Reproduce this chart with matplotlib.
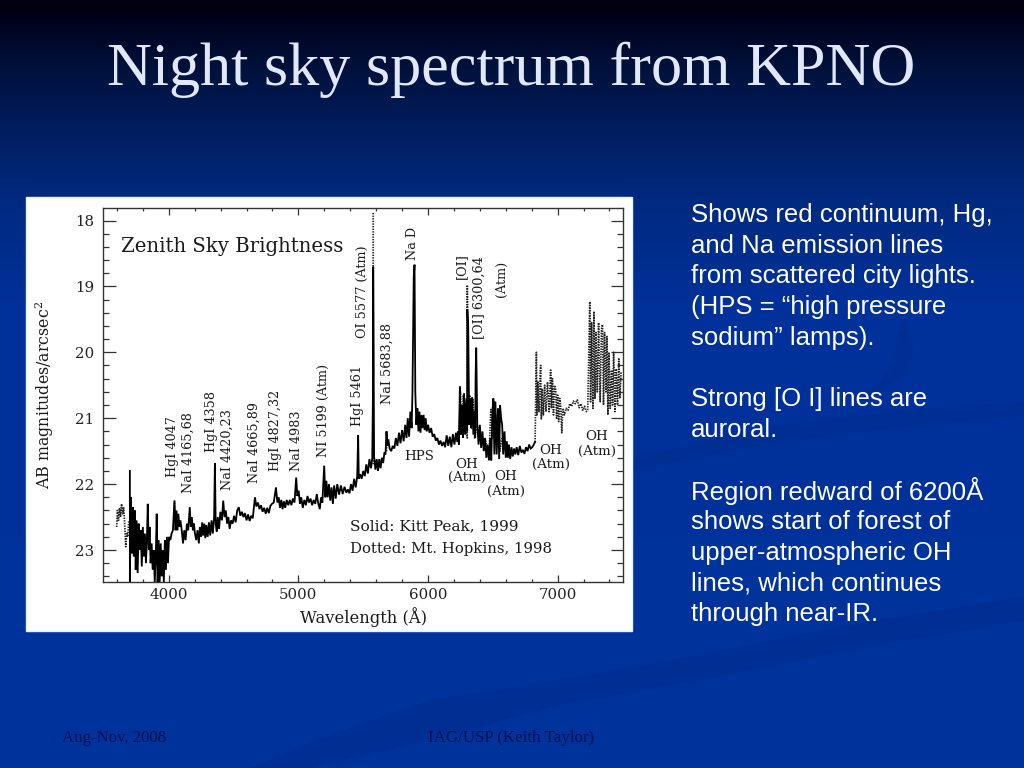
import numpy as np
import matplotlib
matplotlib.use("Agg")
import matplotlib.pyplot as plt
from matplotlib.patches import Rectangle, Polygon
from matplotlib.ticker import MultipleLocator
from matplotlib.colors import LinearSegmentedColormap

# ---------- data ----------
solid_wave = [3700,3700,3708,3716,3722,3730,3738,3745,3752,3760,3768,3776,3784,3792,3800,3808,3816,3824,3832,3838,3846,3852,3860,3868,3876,3884,3892,3900,3907,3914,3922,3930,3938,3946,3954,3962,3970,3978,3986,3994,4002,4012,4022,4032,4044,4052,4060,4066,4074,4082,4090,4100,4110,4120,4130,4140,4150,4162,4170,4178,4186,4194,4202,4212,4222,4232,4240,4250,4258,4266,4274,4282,4290,4300,4310,4320,4330,4340,4350,4356,4362,4370,4378,4388,4398,4410,4420,4430,4440,4450,4460,4470,4480,4492,4504,4516,4528,4540,4552,4564,4576,4588,4600,4612,4624,4636,4648,4665,4676,4688,4700,4712,4724,4736,4748,4760,4772,4784,4796,4810,4827,4838,4848,4858,4868,4878,4888,4898,4910,4922,4934,4946,4958,4970,4983,4992,5002,5012,5022,5034,5046,5058,5070,5082,5094,5106,5118,5130,5142,5152,5165,5175,5185,5199,5208,5216,5226,5236,5246,5256,5266,5276,5288,5300,5314,5328,5342,5356,5370,5382,5394,5406,5418,5430,5442,5454,5461,5466,5476,5488,5500,5512,5524,5536,5548,5560,5570,5577,5577,5584,5594,5604,5614,5624,5634,5644,5654,5664,5672,5680,5686,5694,5704,5716,5728,5740,5752,5764,5776,5788,5800,5812,5824,5834,5844,5854,5864,5874,5880,5888,5890,5896,5902,5910,5918,5926,5934,5942,5950,5958,5966,5974,5982,5990,6000,6012,6024,6036,6048,6060,6072,6084,6096,6108,6120,6132,6144,6156,6168,6180,6192,6204,6216,6226,6233,6238,6246,6252,6262,6270,6278,6286,6296,6302,6303,6310,6318,6326,6332,6340,6350,6358,6364,6367,6372,6380,6390,6400,6410,6420,6430,6440,6450,6460,6470,6480,6488,6497,6504,6512,6520,6530,6540,6549,6556,6564,6572,6580,6590,6600,6608,6616,6624,6634,6644,6654,6664,6674,6684,6696,6708,6720,6732,6744,6756,6768,6780,6792,6804,6816,6826]
solid_mag = [21.80,23.49,22.20,23.05,22.35,23.10,22.40,23.30,22.55,23.35,22.60,23.00,22.70,23.25,22.65,23.10,22.75,23.20,22.80,22.30,23.00,22.65,23.20,22.90,23.30,23.00,23.49,23.10,22.45,23.49,22.85,23.49,22.90,23.40,23.00,23.49,22.85,23.30,22.80,23.20,22.80,22.85,22.75,22.70,22.25,22.70,22.40,22.70,22.45,22.65,22.55,22.70,22.90,22.70,22.85,22.60,22.70,22.35,22.65,22.50,22.70,22.60,22.75,22.85,22.70,22.90,22.65,22.80,22.58,22.78,22.60,22.82,22.62,22.80,22.58,22.78,22.55,22.75,22.50,21.68,22.60,22.72,22.50,22.68,22.42,22.55,22.25,22.50,22.40,22.60,22.50,22.68,22.55,22.60,22.48,22.58,22.40,22.35,22.48,22.42,22.50,22.44,22.55,22.46,22.56,22.48,22.52,22.20,22.34,22.28,22.38,22.32,22.42,22.36,22.45,22.36,22.44,22.33,22.30,22.28,22.05,22.28,22.20,22.36,22.24,22.38,22.26,22.36,22.24,22.32,22.24,22.32,22.22,22.28,21.90,22.18,22.10,22.30,22.20,22.36,22.24,22.32,22.18,22.28,22.22,22.32,22.24,22.30,22.15,22.28,22.38,22.20,22.28,21.72,22.20,21.95,22.20,22.00,22.25,22.05,22.30,22.02,22.22,22.00,22.16,22.02,22.15,22.04,22.13,22.08,22.14,22.00,22.10,21.92,22.05,21.88,21.26,21.92,21.85,21.92,21.80,21.88,21.70,21.84,21.62,21.76,21.60,20.30,18.70,21.58,21.78,21.62,21.80,21.62,21.76,21.60,21.68,21.52,21.55,21.20,21.42,21.32,21.46,21.50,21.42,21.46,21.30,21.42,21.22,21.38,21.18,21.35,21.10,21.30,21.00,21.28,20.90,21.15,20.60,19.10,18.85,18.67,20.60,21.10,20.85,21.20,20.90,21.22,20.95,21.15,20.95,21.18,21.00,21.20,21.10,21.22,21.15,21.28,21.24,21.34,21.30,21.40,21.34,21.42,21.36,21.44,21.26,21.42,21.28,21.44,21.24,21.40,21.22,21.36,21.20,21.40,20.52,21.25,20.80,21.30,20.62,21.25,20.70,21.20,19.35,19.60,21.10,20.70,21.15,20.68,21.25,20.90,21.30,20.40,19.93,21.10,21.40,21.10,21.45,21.20,21.50,21.30,21.60,21.40,21.64,21.30,21.64,20.90,20.70,21.55,20.75,21.55,20.85,21.62,20.80,21.00,21.10,21.55,21.20,21.60,21.35,21.60,21.40,21.62,21.44,21.58,21.46,21.55,21.44,21.56,21.42,21.52,21.48,21.54,21.44,21.50,21.40,21.46,21.44,21.40,21.36]

# NaN marks a break between separate dotted stretches
nan = float('nan')
dotted_wave = [3598,3604,3612,3620,3628,3636,3644,3652,3660,3668,3676,3684,3692,nan,4044,4044,nan,4356,4356,nan,5577,5577,nan,5680,5680,nan,
               6240,6250,6262,6272,6290,6303,6303,6312,6324,6336,6348,6360,6380,6400,6440,6470,6485,6500,6512,6525,6540,6555,6570,nan,
               6826,6836,6840,6848,6856,6862,6869,6874,6882,6890,6900,6910,6922,6934,6946,6952,6960,6968,6976,6985,6992,7000,7008,7016,7023,7032,7040,7052,7066,7080,7094,7108,7122,7136,7152,7166,7180,7194,7208,7222,7232,7248,7254,7262,7272,7280,7288,7296,7306,7316,7328,7338,7346,7354,7362,7372,7380,7388,7396,7406,7416,7424,7432,7442,7452,7462,7472,7480,7490]
dotted_mag = [22.65,22.40,22.55,22.36,22.50,22.30,22.45,22.35,22.60,22.95,22.75,22.80,22.55,nan,22.50,22.25,nan,22.30,21.68,nan,21.70,17.87,nan,21.50,21.20,nan,
              21.25,20.60,21.20,20.65,21.15,21.30,18.98,21.00,20.65,21.15,20.70,21.30,21.10,21.35,21.30,21.60,20.85,21.30,20.75,21.35,20.85,21.50,21.30,nan,
              21.36,20.00,20.95,20.45,20.90,20.50,20.20,21.02,20.55,20.95,20.50,20.90,20.45,20.90,20.27,20.85,20.40,20.95,20.50,20.57,21.00,20.65,21.05,20.70,20.80,21.22,20.85,20.95,20.85,20.88,20.78,20.82,20.74,20.78,20.72,20.84,20.78,20.88,20.82,20.90,20.87,19.23,20.75,19.55,20.85,19.38,20.70,19.70,20.60,19.55,20.75,19.65,19.58,20.80,19.70,20.60,19.76,20.95,20.00,20.85,20.27,20.80,20.00,20.90,20.25,20.80,20.10,20.70,20.30]

xticks_major = [4000, 5000, 6000, 7000]
yticks_major = [18, 19, 20, 21, 22, 23]

vertical_labels = [
    ("HgI 4047", 172.7, 477), ("NaI 4165,68", 188.7, 493), ("HgI 4358", 211, 452),
    ("NaI 4420,23", 227.7, 490), ("NaI 4665,89", 254, 483), ("HgI 4827,32", 276, 471),
    ("NaI 4983", 296, 471), ("NI 5199 (Atm)", 323.7, 457), ("HgI 5461", 358, 426),
    ("OI 5577 (Atm)", 362.7, 338), ("NaI 5683,88", 387.7, 404), ("Na D", 413, 260),
    ("[OI]", 461, 279), ("[OI] 6300,64", 479, 339), ("(Atm)", 501, 297),
]
horizontal_labels = [
    ("HPS", 419, 457), ("OH", 467, 464), ("(Atm)", 467, 477), ("OH", 506, 477),
    ("(Atm)", 506, 491), ("OH", 551, 451), ("(Atm)", 551, 464), ("OH", 597, 437),
    ("(Atm)", 597, 451),
]
body_lines = [
    "Shows red continuum, Hg,", "and Na emission lines", "from scattered city lights.",
    "(HPS = \u201chigh pressure", "sodium\u201d lamps).", "", "Strong [O I] lines are",
    "auroral.", "", "Region redward of 6200\u00c5", "shows start of forest of",
    "upper-atmospheric OH", "lines, which continues", "through near-IR.",
]

# ---------- figure and slide background ----------
plt.rcParams['mathtext.default'] = 'regular'
W, H = 1024, 768
fig = plt.figure(figsize=(W / 100, H / 100), dpi=100)
bg = fig.add_axes([0, 0, 1, 1], zorder=0)
bg.set_xlim(0, W)
bg.set_ylim(H, 0)
bg.axis('off')
cmap = LinearSegmentedColormap.from_list('slide', [
    (0.0, '#00000f'), (0.02, '#00001a'), (0.08, '#001038'), (0.16, '#001c5c'),
    (0.26, '#002a80'), (0.40, '#00319a'), (1.0, '#00339c')])
bg.imshow(np.linspace(0, 1, H)[:, None], aspect='auto', cmap=cmap, extent=(0, W, H, 0), vmin=0, vmax=1)
swoosh = '#002a88'
bg.add_patch(Polygon([(632, 458), (760, 428), (900, 410), (1024, 402), (1024, 416), (900, 428), (760, 445), (632, 472)],
                     closed=True, fc=swoosh, ec='none', alpha=0.4))
bg.add_patch(Polygon([(250, 768), (330, 735), (430, 700), (560, 680), (700, 655), (850, 625), (1024, 596),
                      (1024, 620), (850, 650), (700, 680), (560, 705), (450, 735), (310, 768)],
                     closed=True, fc=swoosh, ec='none', alpha=0.45))
bg.add_patch(Polygon([(905, 320), (914, 350), (905, 375), (880, 392), (850, 402), (880, 382), (895, 358), (897, 335)],
                     closed=True, fc=swoosh, ec='none', alpha=0.4))
bg.add_patch(Rectangle((26, 197), 606, 434, fc='white', ec='#e8f6fb', lw=1))

# ---------- spectrum panel ----------
ax = fig.add_axes([103.3 / W, 1 - 582.3 / H, 519.4 / W, 374.3 / H], zorder=2, facecolor='white')
ax.plot(dotted_wave, dotted_mag, color='#222222', lw=1.25, ls=(0, (0.8, 0.7)))
ax.plot(solid_wave, solid_mag, color='black', lw=1.3, solid_joinstyle='miter')
ax.set_xlim(3495, 7502)
ax.set_ylim(23.49, 17.81)
ax.set_xticks(xticks_major)
ax.set_yticks(yticks_major)
ax.xaxis.set_minor_locator(MultipleLocator(200))
ax.yaxis.set_minor_locator(MultipleLocator(0.2))
ax.tick_params(which='major', axis='x', direction='in', top=True, bottom=True, length=5, width=0.9, color='#333333')
ax.tick_params(which='minor', axis='x', direction='in', top=True, bottom=True, length=2.5, width=0.9, color='#333333')
ax.tick_params(which='major', axis='y', direction='in', left=True, right=True, length=9, width=0.9, color='#333333')
ax.tick_params(which='minor', axis='y', direction='in', left=True, right=True, length=4.5, width=0.9, color='#333333')
ax.tick_params(axis='x', which='major', pad=4, labelsize=10.8, labelcolor='#222222')
ax.tick_params(axis='y', which='major', pad=6.5, labelsize=10.8, labelcolor='#222222')
for lab in ax.get_xticklabels() + ax.get_yticklabels():
    lab.set_family('DejaVu Serif')
for s in ax.spines.values():
    s.set_color('#333333')
    s.set_linewidth(1.0)

def ftext(x, y, s, **kw):
    kw.setdefault('family', 'DejaVu Serif')
    kw.setdefault('color', '#1a1a1a')
    return fig.text(x / W, 1 - y / H, s, zorder=5, **kw)

for s, x, y in vertical_labels:
    ftext(x, y, s, rotation=90, ha='center', va='bottom', fontsize=9.2)
for s, x, y in horizontal_labels:
    ftext(x, y, s, ha='center', va='center', fontsize=9.6)
ftext(121, 247, "Zenith Sky Brightness", ha='left', va='center', fontsize=14.2)
ftext(350, 526, "Solid: Kitt Peak, 1999", ha='left', va='center', fontsize=11.1)
ftext(350, 549, "Dotted: Mt. Hopkins, 1998", ha='left', va='center', fontsize=10.7)
ftext(363, 617, "Wavelength (\u00c5)", ha='center', va='center', fontsize=11.8)
ftext(45, 395, "AB magnitudes/arcsec$^2$", rotation=90, ha='center', va='center', fontsize=11.4)

# ---------- slide text ----------
fig.text(511 / W, 1 - 70 / H, "Night sky spectrum from KPNO", family='Liberation Serif', fontsize=44.8,
         color='#e2e8fb', ha='center', va='center', zorder=5)
for i, line in enumerate(body_lines):
    fig.text(691 / W, 1 - (215 + i * 30.7) / H, line, family='Liberation Sans', fontsize=18.5,
             color='white', ha='left', va='center', zorder=5)
fig.text(62 / W, 1 - 738 / H, "Aug-Nov, 2008", family='Liberation Serif', fontsize=12.1,
         color='#001050', ha='left', va='center', zorder=5)
fig.text(428 / W, 1 - 738 / H, "IAG/USP (Keith Taylor)", family='Liberation Serif', fontsize=12.2,
         color='#001050', ha='left', va='center', zorder=5)

fig.savefig('out.png', dpi=100)
